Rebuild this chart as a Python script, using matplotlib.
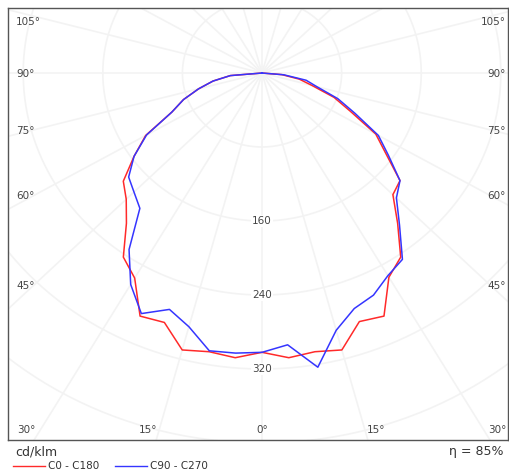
import numpy as np
import matplotlib
matplotlib.use("Agg")
from matplotlib import pyplot as plt

# gamma angles (deg from nadir) and intensities in cd/klm
gamma = np.arange(0, 95, 5)

c0 = [302, 309, 306, 310, 286, 290, 255, 243, 212, 186, 181, 152, 132, 98, 77, 52, 38, 20, 0]
c180 = [302, 309, 306, 310, 287, 290, 256, 243, 212, 193, 182, 157, 135, 100, 84, 66, 50, 32, 0]
c90 = [302, 295, 323, 288, 271, 265, 253, 246, 215, 191, 181, 155, 135, 103, 81, 57, 45, 22, 0]
c270 = [302, 304, 305, 284, 272, 287, 264, 233, 191, 182, 175, 157, 134, 100, 84, 66, 50, 32, 0]

rings = [80, 160, 240, 320, 400, 480, 560, 640]
ring_labels = [160, 240, 320]

side_labels = ["105°", "90°", "75°", "60°", "45°"]
side_y = [22, 74, 131, 196, 286]
bottom_labels = ["30°", "15°", "0°", "15°", "30°"]
bottom_x = [26, 148, 262, 376, 497]


def curve(left, right):
    g = np.radians(gamma)
    xl = -np.array(left) * np.sin(g)
    yl = -np.array(left) * np.cos(g)
    xr = np.array(right) * np.sin(g)
    yr = -np.array(right) * np.cos(g)
    return np.concatenate([xl[::-1], xr[1:]]), np.concatenate([yl[::-1], yr[1:]])


W, H = 510, 474
fig = plt.figure(figsize=(W / 100, H / 100), dpi=100)
ax = fig.add_axes([8 / W, 1 - 440 / H, 500 / W, 432 / H])
ax.set_xlim(-255.3, 247.2)
ax.set_ylim(-396.8, 70.3)

# very faint grid
t = np.linspace(0, 2 * np.pi, 400)
for r in rings:
    ax.plot(r * np.cos(t), r * np.sin(t), color="#f3f3f3", lw=1.2, zorder=1)
for a in range(0, 360, 15):
    ar = np.radians(a)
    ax.plot([0, 900 * np.sin(ar)], [0, -900 * np.cos(ar)], color="#f3f3f3", lw=1.2, zorder=1)

for v in ring_labels:
    ax.text(0, -v, str(v), ha="center", va="center", fontsize=7.5, color="#444444",
            bbox=dict(facecolor="white", edgecolor="none", pad=1.0), zorder=2)

x1, y1 = curve(c180, c0)
x2, y2 = curve(c270, c90)
ax.plot(x1, y1, color="#ff2a2a", lw=1.1, zorder=3)
ax.plot(x2, y2, color="#3535ff", lw=1.1, zorder=4)

ax.set_xticks([])
ax.set_yticks([])
for s in ax.spines.values():
    s.set_color("#555555")
    s.set_linewidth(1.0)

for lab, y in zip(side_labels, side_y):
    fig.text(16 / W, 1 - y / H, lab, ha="left", va="center", fontsize=7.5, color="#444444")
    fig.text(506 / W, 1 - y / H, lab, ha="right", va="center", fontsize=7.5, color="#444444")
for lab, x in zip(bottom_labels, bottom_x):
    fig.text(x / W, 1 - 430 / H, lab, ha="center", va="center", fontsize=7.5, color="#444444")

fig.text(15 / W, 1 - 452 / H, "cd/klm", ha="left", va="center", fontsize=9, color="#333333")
fig.text(504 / W, 1 - 452 / H, "η = 85%", ha="right", va="center", fontsize=9, color="#333333")

fig.add_artist(plt.Line2D([13 / W, 45 / W], [1 - 466 / H] * 2, color="#ff2a2a", lw=1.0))
fig.text(48 / W, 1 - 466 / H, "C0 - C180", ha="left", va="center", fontsize=7.5, color="#333333")
fig.add_artist(plt.Line2D([115 / W, 147 / W], [1 - 466 / H] * 2, color="#3535ff", lw=1.0))
fig.text(150 / W, 1 - 466 / H, "C90 - C270", ha="left", va="center", fontsize=7.5, color="#333333")

fig.savefig("out.png", dpi=100)
